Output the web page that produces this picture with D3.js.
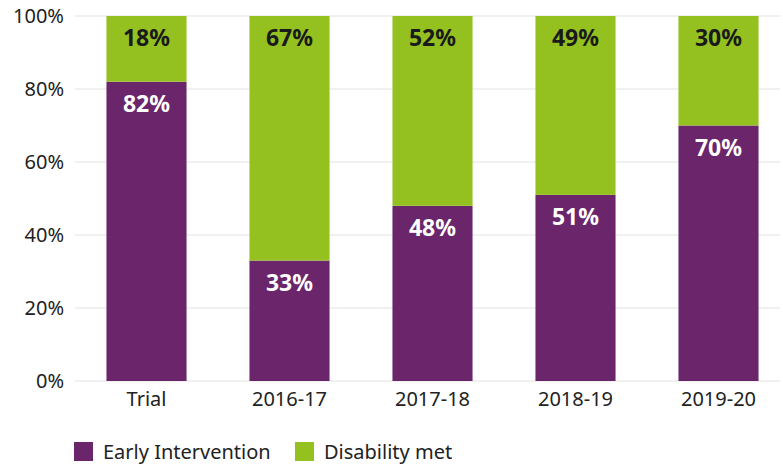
<!DOCTYPE html>
<html>
<head>
<meta charset="utf-8">
<script src="https://cdn.jsdelivr.net/npm/d3@7"></script>
<style>
  body { margin: 0; background: #fff; }
  svg { font-family: "Noto Sans", sans-serif; }
</style>
</head>
<body>
<div id="chart"></div>
<script>
const categories = ["Trial", "2016-17", "2017-18", "2018-19", "2019-20"];
const earlyIntervention = [82, 33, 48, 51, 70];
const disabilityMet = [18, 67, 52, 49, 30];
const yTicks = [0, 20, 40, 60, 80, 100];
const seriesNames = ["Early Intervention", "Disability met"];
const colors = ["#6a256b", "#94c11f"];

const W = 783, H = 465;
const svg = d3.select("#chart").append("svg")
  .attr("width", W)
  .attr("height", H);

var x = d3.scaleBand()
  .domain(categories)
  .range([75, 790])
  .paddingInner(0.44)
  .paddingOuter(0.22);
var y = d3.scaleLinear()
  .domain([0, 100])
  .range([381, 16]);

// gridlines
svg.append("g")
  .selectAll("line")
  .data(yTicks)
  .join("line")
  .attr("x1", 75).attr("x2", 780)
  .attr("y1", d => y(d)).attr("y2", d => y(d))
  .style("stroke", "#e2e2e2")
  .style("stroke-width", 1);

// y axis labels
var yAxis = d3.axisLeft(y).tickValues(yTicks).tickFormat(d => d + "%").tickSize(0).tickPadding(11);
svg.append("g")
  .attr("transform", "translate(75,0)")
  .call(yAxis)
  .call(g => g.select(".domain").remove())
  .selectAll("text")
  .style("font-size", "20px")
  .style("font-family", "'Noto Sans', sans-serif")
  .style("fill", "#222");

// x axis labels
var xAxis = d3.axisBottom(x).tickSize(0).tickPadding(11);
svg.append("g")
  .attr("transform", "translate(0,381)")
  .call(xAxis)
  .call(g => g.select(".domain").remove())
  .selectAll("text")
  .style("font-size", "20px")
  .style("font-family", "'Noto Sans', sans-serif")
  .style("fill", "#222");

const rows = categories.map((c, i) => ({cat: c, ei: earlyIntervention[i], dm: disabilityMet[i]}));

// bars
const bars = svg.append("g");
bars.selectAll("rect.ei")
  .data(rows)
  .join("rect")
  .attr("class", "ei")
  .attr("x", d => x(d.cat))
  .attr("width", x.bandwidth())
  .attr("y", d => y(d.ei))
  .attr("height", d => y(0) - y(d.ei))
  .style("fill", colors[0]);
bars.selectAll("rect.dm")
  .data(rows)
  .join("rect")
  .attr("class", "dm")
  .attr("x", d => x(d.cat))
  .attr("width", x.bandwidth())
  .attr("y", d => y(d.ei + d.dm))
  .attr("height", d => y(d.ei) - y(d.ei + d.dm))
  .style("fill", colors[1]);

// value labels
const labels = svg.append("g")
  .style("font-size", "23px")
  .style("font-weight", "bold")
  .attr("text-anchor", "middle");
labels.selectAll("text.ei")
  .data(rows)
  .join("text")
  .attr("x", d => x(d.cat) + x.bandwidth() / 2)
  .attr("y", d => y(d.ei) + 22)
  .attr("dy", "0.35em")
  .style("fill", "#fff")
  .text(d => d.ei + "%");
labels.selectAll("text.dm")
  .data(rows)
  .join("text")
  .attr("x", d => x(d.cat) + x.bandwidth() / 2)
  .attr("y", d => y(d.ei + d.dm) + 22)
  .attr("dy", "0.35em")
  .style("fill", "#1a1a1a")
  .text(d => d.dm + "%");

// legend
const legendX = [74, 295];
const legend = svg.append("g")
  .selectAll("g")
  .data(seriesNames)
  .join("g")
  .attr("transform", (d, i) => "translate(" + legendX[i] + ",442)");
legend.append("rect")
  .attr("width", 19).attr("height", 19)
  .style("fill", (d, i) => colors[i]);
legend.append("text")
  .attr("x", 29).attr("y", 10)
  .attr("dy", "0.35em")
  .style("font-size", "20px")
  .style("fill", "#222")
  .text(d => d);
</script>
</body>
</html>
